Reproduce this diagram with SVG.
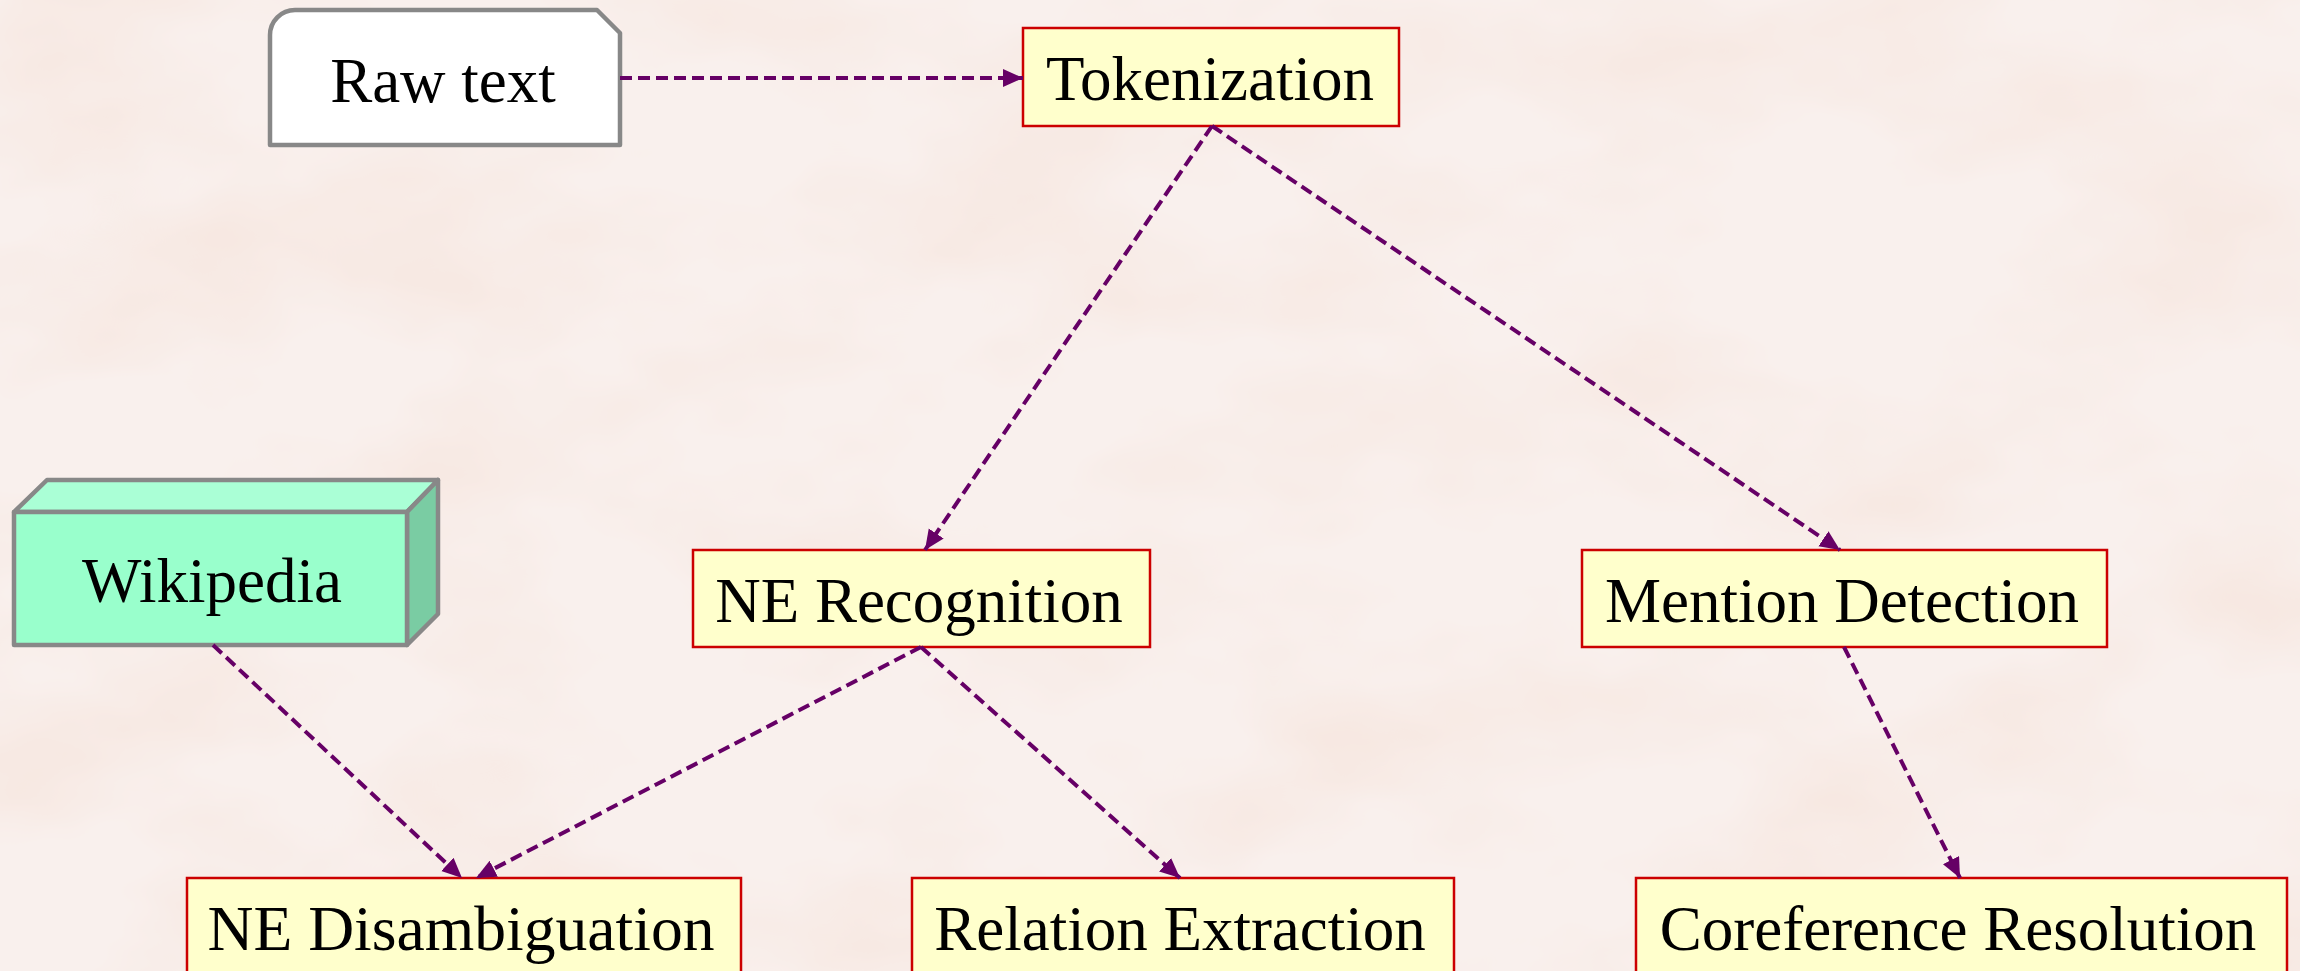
<svg xmlns="http://www.w3.org/2000/svg" width="2300" height="971" viewBox="0 0 2300 971">
<defs>
<filter id="paper" x="0" y="0" width="2300" height="971" filterUnits="userSpaceOnUse">
<feTurbulence type="fractalNoise" baseFrequency="0.0035 0.006" numOctaves="4" seed="11"/>
<feColorMatrix type="matrix" values="0 0 0 0 0.93  0 0 0 0 0.81  0 0 0 0 0.76  2.4 0 0 0 -1.0"/>
</filter>
<marker id="ah" markerUnits="userSpaceOnUse" markerWidth="22" markerHeight="20" refX="20" refY="9" orient="auto">
<path d="M0,0 L20,9 L0,18 Z" fill="#660066"/>
</marker>
<style>
.box{fill:#FFFFCC;stroke:#CC0000;stroke-width:2.5}
.lbl{font-family:"Liberation Serif","Times New Roman",serif;font-size:63px;fill:#000;text-anchor:middle}
.conn{fill:none;stroke:#660066;stroke-width:4;stroke-dasharray:12 6;marker-end:url(#ah)}
.gray{stroke:#888888;stroke-width:4.5;stroke-linejoin:round}
</style>
</defs>
<rect x="0" y="0" width="2300" height="971" fill="#F9F0ED"/>
<rect x="0" y="0" width="2300" height="971" filter="url(#paper)"/>

<g id="raw-text">
<path class="gray" d="M270,35 A25,25 0 0 1 295,10 L597,10 L620,33 L620,145 L270,145 Z" fill="#FFFFFF"/>
<text class="lbl" x="443" y="102">Raw text</text>
</g>

<g id="tokenization">
<rect class="box" x="1023" y="28" width="376" height="98"/>
<text class="lbl" x="1210" y="100">Tokenization</text>
</g>

<g id="wikipedia">
<path class="gray" d="M14,512 L47,480 L438,480 L407,512 Z" fill="#AAFFD6"/>
<path class="gray" d="M407,512 L438,480 L438,614 L407,645 Z" fill="#7ACCA3"/>
<rect class="gray" x="14" y="512" width="393" height="133" fill="#99FFCC"/>
<text class="lbl" x="212" y="602">Wikipedia</text>
</g>

<g id="ne-recognition">
<rect class="box" x="693" y="550" width="457" height="97"/>
<text class="lbl" x="919" y="622">NE Recognition</text>
</g>

<g id="mention-detection">
<rect class="box" x="1582" y="550" width="525" height="97"/>
<text class="lbl" x="1842" y="622">Mention Detection</text>
</g>

<g id="ne-disambiguation">
<rect class="box" x="187" y="878" width="554" height="130"/>
<text class="lbl" x="461" y="950" textLength="507" lengthAdjust="spacingAndGlyphs">NE Disambiguation</text>
</g>

<g id="relation-extraction">
<rect class="box" x="912" y="878" width="542" height="130"/>
<text class="lbl" x="1180" y="950">Relation Extraction</text>
</g>

<g id="coreference-resolution">
<rect class="box" x="1636" y="878" width="651" height="130"/>
<text class="lbl" x="1958" y="950">Coreference Resolution</text>
</g>

<g id="connectors">
<path class="conn" d="M620,78 L1023,78"/>
<path class="conn" d="M1212,126 L925,550"/>
<path class="conn" d="M1212,126 L1840,550"/>
<path class="conn" d="M213,645 L462,878"/>
<path class="conn" d="M921,647 L476,878"/>
<path class="conn" d="M921,647 L1180,878"/>
<path class="conn" d="M1844,647 L1960,878"/>
</g>
</svg>
